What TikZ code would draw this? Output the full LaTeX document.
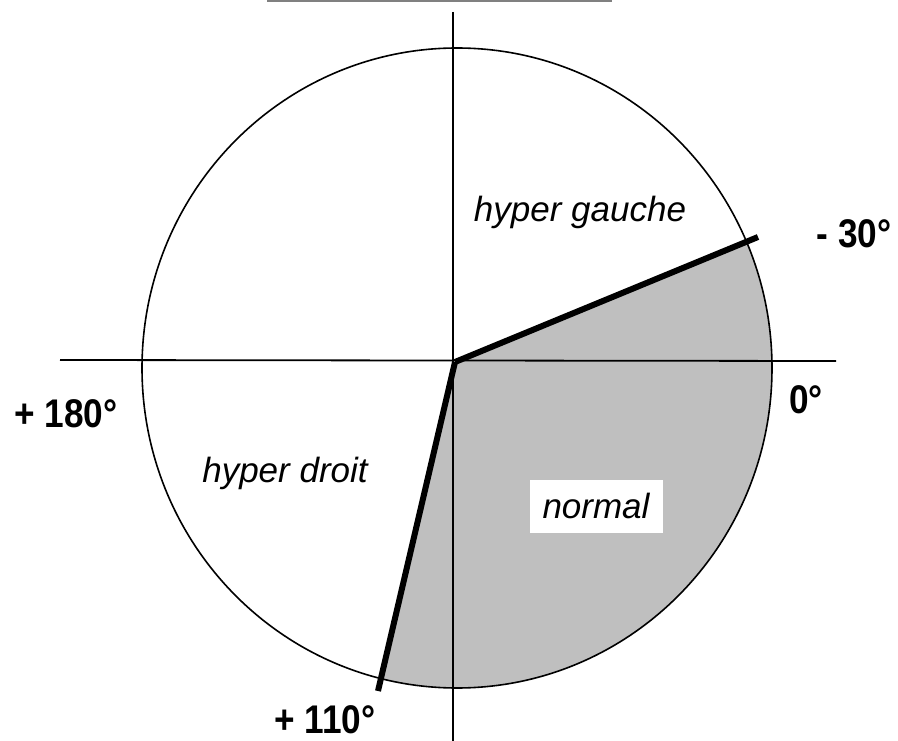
\documentclass[tikz,border=0pt]{standalone}
\usepackage{fontspec}
\setmainfont{Liberation Sans}
\usetikzlibrary{calc}
\newcommand{\narrowlabel}[1]{\scalebox{0.88}[1]{#1}}
\begin{document}
\begin{tikzpicture}[x=1pt,y=-1pt,
	axis/.style={line width=1.8pt},
	limit/.style={line width=6pt},
	zone/.style={font=\fontsize{35}{40}\selectfont\itshape,inner sep=0pt},
	angle/.style={font=\fontsize{40}{44}\selectfont\bfseries,inner sep=0pt}]
	\useasboundingbox (0,0) rectangle (898,741);
	\coordinate (O) at (455,362);
	\coordinate (M) at (457,368);
	\coordinate (T) at (453,12);
	\coordinate (B) at (453,741);
	\coordinate (L) at (60,360);
	\coordinate (R) at (836,361);
	\coordinate (P) at (758,237);
	\coordinate (Q) at (378,691);
	% shaded sector
	\begin{scope}
		\clip (M) ellipse [x radius=315, y radius=320];
		\fill[gray!50] (O) -- ($(O)!2!(P)$) -- (900,741) -- ($(O)!2!(Q)$) -- cycle;
	\end{scope}
	\draw[line width=1.6pt] (M) ellipse [x radius=315, y radius=320];
	\draw[gray, line width=1.5pt] (267,0.8) -- (612,0.8);
	\draw[axis] (T) -- (B);
	\draw[axis] (L) -- (R);
	\draw[limit] (O) -- (P);
	\draw[limit] (O) -- (Q);
	% labels
	\node[zone] (gauche) at (580,212) {hyper gauche};
	\node[zone] (droit) at (285,473) {hyper droit};
	\node[zone, fill=white, minimum width=133, minimum height=53] (normal) at (596,506) {normal};
	\node[angle] (m30) at (854,234) {\narrowlabel{- 30°}};
	\node[angle] (zero) at (806,400) {\narrowlabel{0°}};
	\node[angle] (p180) at (66,414) {\narrowlabel{+ 180°}};
	\node[angle] (p110) at (325,720) {\narrowlabel{+ 110°}};
\end{tikzpicture}
\end{document}
